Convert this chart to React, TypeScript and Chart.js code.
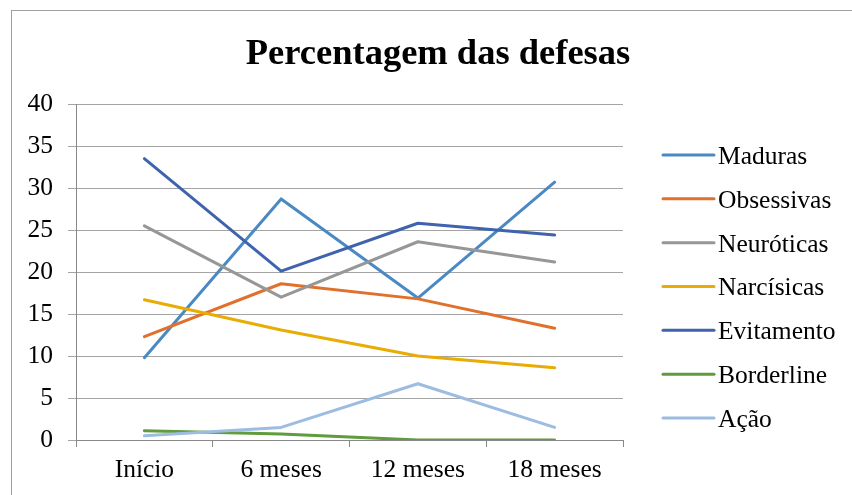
import React, { useEffect, useRef } from "react";
import { Chart, registerables } from "chart.js";

Chart.register(...registerables);

const chartTitle = "Percentagem das defesas";
const categories = ["Início", "6 meses", "12 meses", "18 meses"];
const seriesNames = ["Maduras", "Obsessivas", "Neuróticas", "Narcísicas", "Evitamento", "Borderline", "Ação"];
const maduras = [9.8, 28.7, 16.9, 30.7];
const obsessivas = [12.3, 18.6, 16.8, 13.3];
const neuroticas = [25.5, 17.0, 23.6, 21.2];
const narcisicas = [16.7, 13.1, 10.0, 8.6];
const evitamento = [33.5, 20.1, 25.8, 24.4];
const borderline = [1.1, 0.7, 0, 0];
const acao = [0.5, 1.5, 6.7, 1.5];
const seriesColors = ["#4A89C3", "#E0702C", "#979797", "#E8AC05", "#3F63AD", "#609B3D", "#9CBCE2"];
const yMin = 0;
const yMax = 40;
const yStep = 5;

const FONT = "'Liberation Serif', 'Times New Roman', serif";

export default function App() {
  const ref = useRef<HTMLCanvasElement | null>(null);

  useEffect(() => {
    const canvas = ref.current;
    if (!canvas) return;
    const values = [maduras, obsessivas, neuroticas, narcisicas, evitamento, borderline, acao];
    const n = values.length;

    const framePlugin = {
      id: "frame",
      beforeDraw(chart: any) {
        const ctx = chart.ctx;
        ctx.save();
        ctx.fillStyle = "#ffffff";
        ctx.fillRect(0, 0, chart.width, chart.height);
        ctx.strokeStyle = "#A0A0A0";
        ctx.lineWidth = 1;
        ctx.strokeRect(11.5, 10.5, 1000, 1000);
        ctx.restore();
      },
    };

    const titleLegendPlugin = {
      id: "titleLegend",
      afterDraw(chart: any) {
        const ctx = chart.ctx;
        ctx.save();
        ctx.fillStyle = "#000";
        ctx.font = `bold 36.5px ${FONT}`;
        ctx.textAlign = "center";
        ctx.textBaseline = "alphabetic";
        ctx.fillText(chartTitle, 438, 64);

        ctx.font = `25.5px ${FONT}`;
        ctx.textAlign = "left";
        const spacing = 43.83;
        for (let i = 0; i < n; i++) {
          const y = 155 + i * spacing;
          ctx.strokeStyle = seriesColors[i];
          ctx.lineWidth = 3;
          ctx.lineCap = "round";
          ctx.beginPath();
          ctx.moveTo(663, y);
          ctx.lineTo(714, y);
          ctx.stroke();
          ctx.fillStyle = "#000";
          ctx.fillText(seriesNames[i], 718, y + 9);
        }
        ctx.restore();
      },
    };

    const chart = new Chart(canvas, {
      type: "line",
      data: {
        labels: categories,
        datasets: values.map((v, i) => ({
          label: seriesNames[i],
          data: v,
          borderColor: seriesColors[i],
          backgroundColor: seriesColors[i],
          borderWidth: 3,
          pointRadius: 0,
          pointHoverRadius: 0,
          tension: 0,
          fill: false,
          borderCapStyle: "round",
          borderJoinStyle: "round",
          order: n - i,
        })),
      },
      options: {
        responsive: false,
        animation: false,
        events: [],
        layout: { padding: { top: 104, right: 229, bottom: 0, left: 0 } },
        plugins: {
          legend: { display: false },
          title: { display: false },
          tooltip: { enabled: false },
        },
        scales: {
          x: {
            offset: true,
            grid: { offset: true, drawOnChartArea: false, tickLength: 7, color: "#888888" },
            border: { color: "#888888", width: 1 },
            ticks: { padding: 8, color: "#000", font: { family: FONT, size: 25.5 } },
            afterFit(s: any) {
              s.height = 55;
            },
          },
          y: {
            min: yMin,
            max: yMax,
            ticks: { stepSize: yStep, padding: 15, color: "#000", font: { family: FONT, size: 25.5 } },
            grid: { color: "#A4A4A4", tickLength: 8, lineWidth: 1 },
            border: { color: "#888888", width: 1 },
            afterFit(s: any) {
              s.width = 76;
            },
          },
        },
      },
      plugins: [framePlugin, titleLegendPlugin],
    } as any);

    return () => chart.destroy();
  }, []);

  return (
    <div style={{ position: "fixed", left: 0, top: 0, width: 852, height: 495 }}>
      <canvas ref={ref} width={852} height={495} style={{ display: "block" }} />
    </div>
  );
}
